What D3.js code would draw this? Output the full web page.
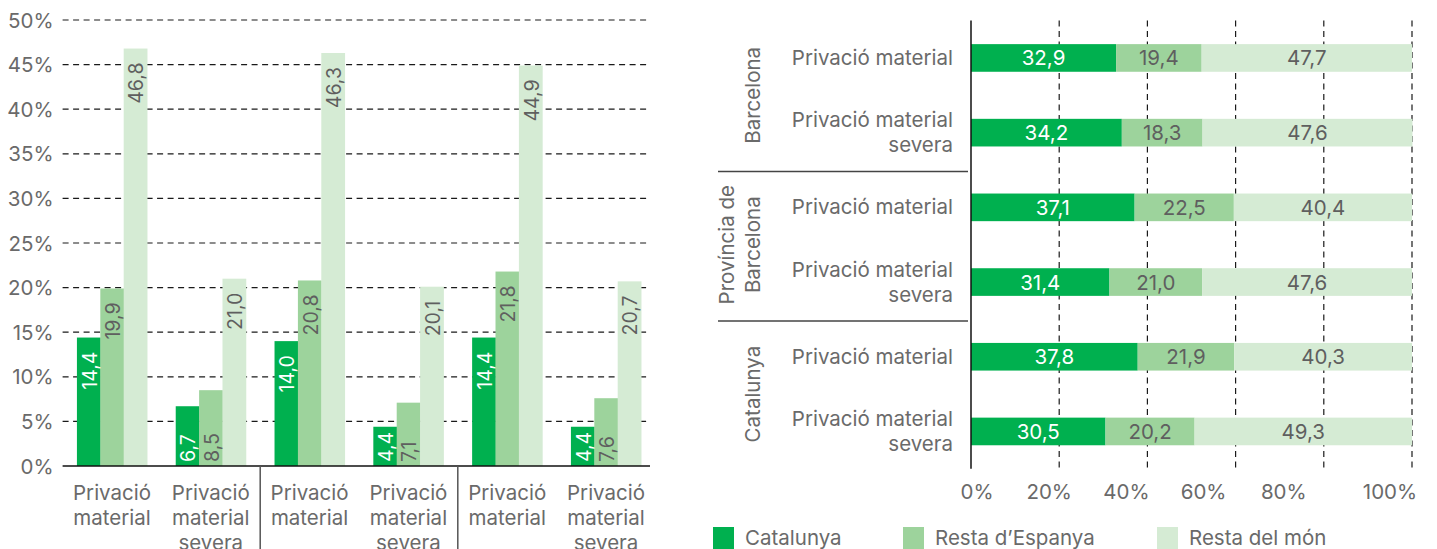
<!DOCTYPE html>
<html>
<head>
<meta charset="utf-8">
<script src="https://cdn.jsdelivr.net/npm/d3@7/dist/d3.min.js"></script>
<style>
  html, body { margin: 0; padding: 0; background: #fff; }
  svg { display: block; }
  text { font-family: Inter, "Open Sans", sans-serif; }
</style>
</head>
<body>
<svg id="chart" width="1437" height="549"></svg>
<script>
// ---------- DATA ----------
const seriesNames = ["Catalunya", "Resta d\u2019Espanya", "Resta del m\u00f3n"];
const groupNames = ["Barcelona", "Prov\u00edncia de Barcelona", "Catalunya"];
const indicatorNames = ["Privaci\u00f3 material", "Privaci\u00f3 material severa"];

// Left chart: % of population in each group
const leftCatalunya    = [14.4, 6.7, 14.0, 4.4, 14.4, 4.4];
const leftRestaEspanya = [19.9, 8.5, 20.8, 7.1, 21.8, 7.6];
const leftRestaMon     = [46.8, 21.0, 46.3, 20.1, 44.9, 20.7];
const leftTicks = [0, 5, 10, 15, 20, 25, 30, 35, 40, 45, 50];

// Right chart: composition by origin (100% stacked)
const rightCatalunya    = [32.9, 34.2, 37.1, 31.4, 37.8, 30.5];
const rightRestaEspanya = [19.4, 18.3, 22.5, 21.0, 21.9, 20.2];
const rightRestaMon     = [47.7, 47.6, 40.4, 47.6, 40.3, 49.3];
const rightTicks = [0, 20, 40, 60, 80, 100];

// ---------- STYLE ----------
const colors = ["#00b04f", "#9dd39c", "#d5ebd4"];
const labelColors = ["#ffffff", "#5f5f5f", "#5f5f5f"];
const textGray = "#6a6a6a";
const FS = 20.5;
const fmt = v => v.toFixed(1).replace(".", ",");

const svg = d3.select("#chart");

// rows: group x indicator
const rows = [];
groupNames.forEach((g, gi) => indicatorNames.forEach((ind, ii) => rows.push({ g, gi, ind, ii, idx: rows.length })));

// ================= LEFT CHART =================
const L = { left: 62.6, right: 655.4, top: 20, bottom: 466, gridRight: 650 };
const y = d3.scaleLinear().domain([0, 50]).range([L.bottom, L.top]);
const x0 = d3.scaleBand().domain(rows.map(r => r.idx)).range([L.left, L.right])
  .paddingInner(0.29).paddingOuter(0.145);
const x1 = d3.scaleBand().domain([0, 1, 2]).range([0, x0.bandwidth()]);

const leftSeries = [leftCatalunya, leftRestaEspanya, leftRestaMon];
const gl = svg.append("g");

// gridlines (behind bars)
gl.selectAll("line.grid").data(leftTicks.filter(t => t > 0)).join("line")
  .attr("x1", L.left).attr("x2", L.gridRight)
  .attr("y1", d => y(d)).attr("y2", d => y(d))
  .attr("stroke", "#1a1a1a").attr("stroke-width", 1.2).attr("stroke-dasharray", "6,4.5");

// y axis labels
const yAxis = d3.axisLeft(y).tickValues(leftTicks).tickFormat(d => d + "%").tickSize(0).tickPadding(0);
const ya = gl.append("g").attr("transform", `translate(${L.left - 9},0)`).call(yAxis);
ya.select(".domain").remove();
ya.selectAll("text").attr("font-size", FS).attr("fill", textGray)
  .attr("font-family", "Inter, 'Open Sans', sans-serif").attr("dy", "0.35em");

// bars
leftSeries.forEach((vals, si) => {
  gl.selectAll(null).data(rows).join("rect")
    .attr("x", r => x0(r.idx) + x1(si))
    .attr("width", x1.bandwidth() + 0.4)
    .attr("y", r => y(vals[r.idx]))
    .attr("height", r => y(0) - y(vals[r.idx]))
    .attr("fill", colors[si]);
});
// value labels (rotated)
leftSeries.forEach((vals, si) => {
  gl.selectAll(null).data(rows).join("text")
    .attr("transform", r => {
      const cx = x0(r.idx) + x1(si) + x1.bandwidth() / 2 + 1;
      const h = y(0) - y(vals[r.idx]);
      const yy = h < 85 ? y(0) - 4 : y(vals[r.idx]) + 14;
      return `translate(${cx},${yy}) rotate(-90)`;
    })
    .attr("text-anchor", r => (y(0) - y(vals[r.idx]) < 85 ? "start" : "end"))
    .attr("dominant-baseline", "central")
    .attr("font-size", FS - 1).attr("fill", labelColors[si])
    .text(r => fmt(vals[r.idx]));
});

// baseline
gl.append("line").attr("x1", L.left).attr("x2", L.gridRight)
  .attr("y1", y(0)).attr("y2", y(0)).attr("stroke", "#111").attr("stroke-width", 1.5);
// group separators
[2, 4].forEach(i => {
  const sx = x0(i) - x0.step() * x0.paddingInner() / 2;
  gl.append("line").attr("x1", sx).attr("x2", sx).attr("y1", y(0)).attr("y2", 560)
    .attr("stroke", "#555").attr("stroke-width", 1.5);
});
// category labels (one text per line)
rows.forEach(r => {
  r.ind.split(" ").forEach((w, i) => {
    gl.append("text")
      .attr("x", x0(r.idx) + x0.bandwidth() / 2).attr("y", 500 + i * 25)
      .attr("text-anchor", "middle").attr("font-size", FS).attr("fill", textGray)
      .text(w);
  });
});

// ================= RIGHT CHART =================
const R = { left: 971, right: 1412, top: 20.6, bottom: 468.8 };
const xr = d3.scaleLinear().domain([0, 100]).range([R.left, R.right]);
const yr = d3.scaleBand().domain(rows.map(r => r.idx)).range([R.top, R.bottom])
  .paddingInner(0.63).paddingOuter(0.315);
const rightSeries = [rightCatalunya, rightRestaEspanya, rightRestaMon];
const gr = svg.append("g");

// gridlines (behind bars)
gr.selectAll("line.vgrid").data(rightTicks.filter(t => t > 0)).join("line")
  .attr("x1", d => xr(d)).attr("x2", d => xr(d))
  .attr("y1", R.top).attr("y2", R.bottom)
  .attr("stroke", "#1a1a1a").attr("stroke-width", 1.2).attr("stroke-dasharray", "6,4.5");

// stacked data
const stacked = rows.map(r => {
  let acc = 0;
  return rightSeries.map((vals, si) => {
    const s = { r, si, x0: acc, x1: acc + vals[r.idx], v: vals[r.idx] };
    acc += vals[r.idx];
    return s;
  });
}).flat();

gr.selectAll("rect").data(stacked).join("rect")
  .attr("x", d => xr(d.x0)).attr("width", d => xr(d.x1) - xr(d.x0))
  .attr("y", d => yr(d.r.idx)).attr("height", yr.bandwidth())
  .attr("fill", d => colors[d.si]);

// value labels
gr.selectAll("text.val").data(stacked).join("text")
  .attr("x", d => (xr(d.x0) + xr(d.x1)) / 2)
  .attr("y", d => yr(d.r.idx) + yr.bandwidth() / 2)
  .attr("text-anchor", "middle").attr("dominant-baseline", "central")
  .attr("font-size", FS).attr("fill", d => labelColors[d.si])
  .text(d => fmt(d.v));

// axis line
gr.append("line").attr("x1", R.left).attr("x2", R.left).attr("y1", R.top).attr("y2", R.bottom)
  .attr("stroke", "#111").attr("stroke-width", 1.5);

// x tick labels (shifted like the original layout)
const tickLabelShift = [6, -10, -21, -32, -40, -22];
gr.selectAll("text.xt").data(rightTicks).join("text")
  .attr("x", (d, i) => xr(d) + tickLabelShift[i]).attr("y", 499)
  .attr("text-anchor", "middle").attr("font-size", FS).attr("fill", textGray)
  .text(d => d + "%");

// row labels (one text per line)
rows.forEach(r => {
  const cy = yr(r.idx) + yr.bandwidth() / 2;
  const lines = r.ii === 0 ? [r.ind] : ["Privaci\u00f3 material", "severa"];
  const start = cy + 7 - (lines.length - 1) * 12.5;
  lines.forEach((l, i) => {
    gr.append("text").attr("x", 953).attr("y", start + i * 25)
      .attr("text-anchor", "end").attr("font-size", FS).attr("fill", textGray).text(l);
  });
});

// group separators
[2, 4].forEach(i => {
  const sy = yr(i) - yr.step() * yr.paddingInner() / 2 + 1.5;
  gr.append("line").attr("x1", 718).attr("x2", 968).attr("y1", sy).attr("y2", sy)
    .attr("stroke", "#444").attr("stroke-width", 1.5);
});

// group labels (rotated)
groupNames.forEach((g, gi) => {
  const cy = (yr(gi * 2) + yr(gi * 2 + 1) + yr.bandwidth()) / 2;
  const lines = gi === 1 ? ["Prov\u00edncia de", "Barcelona"] : [g];
  lines.forEach((l, li) => {
    const cx = 752 - (lines.length - 1 - li) * 26;
    gr.append("text")
      .attr("transform", `translate(${cx},${cy}) rotate(-90)`)
      .attr("text-anchor", "middle").attr("dominant-baseline", "central")
      .attr("font-size", FS).attr("fill", textGray).text(l);
  });
});

// ================= LEGEND =================
const legendX = [713, 903, 1157];
const lg = svg.append("g");
seriesNames.forEach((n, i) => {
  lg.append("rect").attr("x", legendX[i]).attr("y", 527).attr("width", 21).attr("height", 24).attr("fill", colors[i]);
  lg.append("text").attr("x", legendX[i] + 32).attr("y", 545).attr("font-size", FS).attr("fill", textGray).text(n);
});
</script>
</body>
</html>
